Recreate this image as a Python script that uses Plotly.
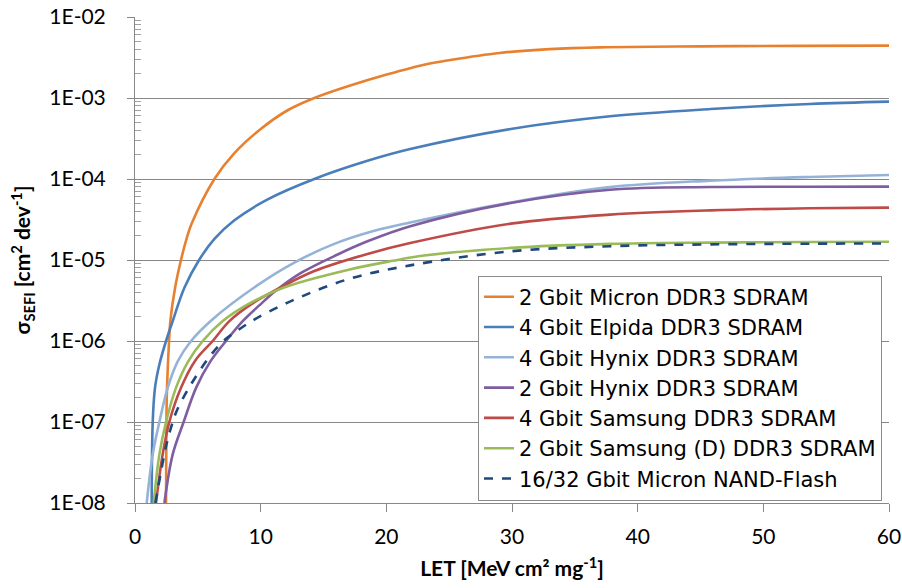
import plotly.graph_objects as go

# SEFI cross-section vs LET, one fitted curve per device
series_names = [
    "2 Gbit Micron DDR3 SDRAM",
    "4 Gbit Elpida DDR3 SDRAM",
    "4 Gbit Hynix DDR3 SDRAM",
    "2 Gbit Hynix DDR3 SDRAM",
    "4 Gbit Samsung DDR3 SDRAM",
    "2 Gbit Samsung (D) DDR3 SDRAM",
    "16/32 Gbit Micron NAND-Flash",
]

micron2_let = [2.47, 2.50, 2.55, 2.71, 2.81, 3.19, 3.66, 4.14, 4.51, 6.32, 7.91, 10.03,
               12.15, 14.27, 17.19, 20.1, 23.0, 25.1, 29.0, 33.0, 37.0, 45.0, 53.0, 60.0]
micron2_sig = [1e-8, 1e-7, 2.64e-7, 1e-6, 1.76e-6, 4.55e-6, 1e-5, 1.91e-5, 2.82e-5, 1e-4,
               2.09e-4, 4.17e-4, 7.06e-4, 1e-3, 1.435e-3, 1.963e-3, 2.58e-3, 2.95e-3,
               3.6e-3, 4.01e-3, 4.22e-3, 4.34e-3, 4.40e-3, 4.43e-3]

elpida4_let = [1.33, 1.41, 1.59, 1.94, 2.47, 3.0, 3.93, 5.1, 6.32, 7.91, 10.56, 14.27,
               18.5, 21.9, 29.9, 37.8, 45.8, 53.7, 60.0]
elpida4_sig = [1e-8, 1e-7, 2.64e-7, 5.13e-7, 1e-6, 1.76e-6, 4.55e-6, 1e-5, 1.82e-5,
               3.09e-5, 5.6e-5, 1e-4, 1.675e-4, 2.34e-4, 4.14e-4, 5.94e-4, 7.31e-4,
               8.43e-4, 9.02e-4]

hynix4_let = [0.93, 1.41, 1.94, 2.6, 3.4, 4.46, 6.18, 9.76, 12.68, 15.86, 19.05, 21.9,
              29.9, 37.8, 45.8, 53.7, 60.0]
hynix4_sig = [1e-8, 3.98e-8, 1e-7, 2.64e-7, 5.6e-7, 1e-6, 1.86e-6, 4.9e-6, 9.3e-6,
              1.58e-5, 2.29e-5, 2.9e-5, 5.13e-5, 7.94e-5, 9.55e-5, 1.06e-4, 1.12e-4]

hynix2_let = [2.34, 3.0, 3.87, 4.86, 6.0, 7.24, 8.57, 9.89, 11.2, 13.21, 16.13, 18.5,
              21.9, 29.9, 37.8, 45.8, 53.7, 60.0]
hynix2_sig = [1e-8, 3.98e-8, 1e-7, 2.64e-7, 5.6e-7, 1e-6, 1.76e-6, 2.75e-6, 4.17e-6,
              6.92e-6, 1.17e-5, 1.70e-5, 2.61e-5, 5.06e-5, 7.38e-5, 7.96e-5, 8.02e-5,
              8.04e-5]

samsung4_let = [1.67, 2.2, 2.73, 3.66, 4.8, 6.18, 7.51, 9.23, 11.55, 14.27, 18.5, 21.9,
                29.9, 37.8, 45.8, 53.7, 60.0]
samsung4_sig = [1e-8, 3.98e-8, 1e-7, 2.64e-7, 5.75e-7, 1e-6, 1.76e-6, 2.83e-6, 4.55e-6,
                7.31e-6, 1.19e-5, 1.62e-5, 2.81e-5, 3.63e-5, 4.1e-5, 4.35e-5, 4.43e-5]

samsung2_let = [1.49, 1.94, 2.47, 3.26, 4.2, 5.39, 6.98, 8.97, 11.8, 17.0, 20.5, 23.0,
                29.9, 37.8, 45.8, 53.7, 60.0]
samsung2_sig = [1e-8, 3.98e-8, 1e-7, 2.64e-7, 5.5e-7, 1e-6, 1.76e-6, 2.83e-6, 4.55e-6,
                7.59e-6, 9.77e-6, 1.135e-5, 1.41e-5, 1.58e-5, 1.64e-5, 1.67e-5, 1.68e-5]

nand_let = [1.62, 2.47, 2.9, 3.3, 4.4, 6.05, 7.11, 8.17, 9.23, 10.56, 12.41, 16.92, 21.9,
            29.9, 37.8, 45.8, 53.7, 60.0]
nand_sig = [1e-8, 5.01e-8, 8.91e-8, 1.35e-7, 2.82e-7, 6.76e-7, 1.02e-6, 1.35e-6, 1.74e-6,
            2.26e-6, 3.11e-6, 5.77e-6, 8.59e-6, 1.28e-5, 1.48e-5, 1.56e-5, 1.59e-5, 1.60e-5]

series_let = [micron2_let, elpida4_let, hynix4_let, hynix2_let, samsung4_let, samsung2_let, nand_let]
series_sig = [micron2_sig, elpida4_sig, hynix4_sig, hynix2_sig, samsung4_sig, samsung2_sig, nand_sig]
series_colors = ["#E8812F", "#4A7EBB", "#95B3D7", "#7E5EA0", "#BE4B48", "#9BBB59", "#1F497D"]
series_dash = ["solid"] * 6 + ["dash"]

y_tick_vals = [1e-8, 1e-7, 1e-6, 1e-5, 1e-4, 1e-3, 1e-2]
y_tick_text = ["1E-08", "1E-07", "1E-06", "1E-05", "1E-04", "1E-03", "1E-02"]
x_tick_vals = [0, 10, 20, 30, 40, 50, 60]

minor_vals = [k * 10.0 ** e for e in range(-8, -2) for k in range(2, 10)]

FONT = "Lato"
GRID = "#878787"

fig = go.Figure()
for name, xs, ys, col, dash in zip(series_names, series_let, series_sig, series_colors, series_dash):
    fig.add_trace(go.Scatter(
        x=xs, y=ys, name=name, mode="lines",
        line=dict(color=col, width=2.6, dash=dash, shape="spline", smoothing=1.0),
    ))

fig.update_layout(
    width=902, height=588,
    margin=dict(l=135, r=13, t=17, b=85),
    paper_bgcolor="white", plot_bgcolor="white",
    font=dict(family=FONT, size=21, color="black"),
    showlegend=True,
    legend=dict(
        x=0.9907, y=0.468, xanchor="right", yanchor="top",
        bgcolor="white", bordercolor="#8C8C8C", borderwidth=1,
        font=dict(family="DejaVu Sans", size=21, color="black"),
        itemwidth=30, tracegroupgap=0,
    ),
    xaxis=dict(
        range=[0, 60], tickvals=x_tick_vals, ticks="outside", ticklen=8,
        tickcolor=GRID, showline=True, linecolor=GRID, linewidth=1,
        showgrid=False, zeroline=False, automargin=False,
        tickfont=dict(family=FONT, size=21), ticklabelstandoff=7,
        title=dict(text="<b>LET [MeV cm² mg<sup>-1</sup>]</b>",
                   font=dict(family=FONT, size=21), standoff=14),
    ),
    yaxis=dict(
        type="log", range=[-8, -2], tickvals=y_tick_vals, ticktext=y_tick_text,
        ticks="outside", ticklen=7, tickcolor=GRID,
        showline=True, linecolor=GRID, linewidth=1,
        showgrid=True, gridcolor=GRID, gridwidth=1, zeroline=False, automargin=False,
        tickfont=dict(family=FONT, size=21),
        ticklabelstandoff=17,
        minor=dict(tickvals=minor_vals, ticks="inside", ticklen=6,
                   tickcolor="#A0A0A0", showgrid=False),
        title=dict(text="<b>σ<sub>SEFI</sub> [cm<sup>2</sup> dev<sup>-1</sup>]</b>",
                   font=dict(family=FONT, size=21), standoff=12),
    ),
)

fig.write_html("out.html")
